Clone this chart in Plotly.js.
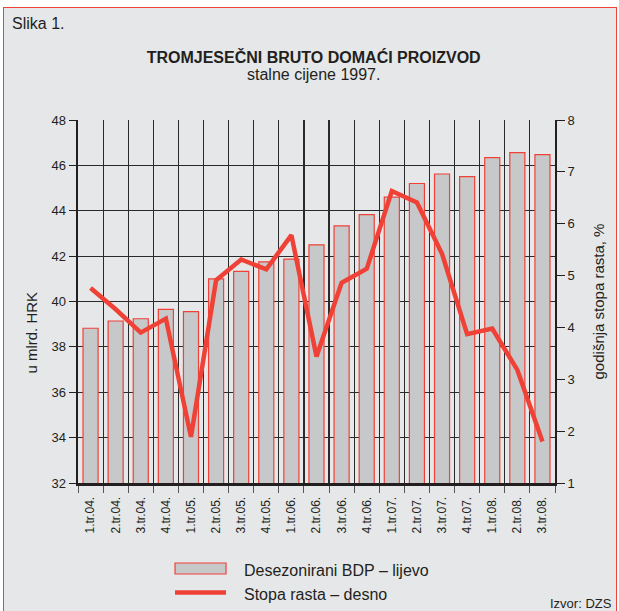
<!DOCTYPE html>
<html>
<head>
<meta charset="utf-8">
<script src="https://cdn.plot.ly/plotly-3.0.1.min.js"></script>
<style>
  html, body { margin: 0; padding: 0; background: #ffffff; width: 619px; height: 611px; overflow: hidden; }
  #frame { position: absolute; left: 3px; top: 7px; width: 612px; height: 610px; border: 1px solid #ef4136; background: #e6e7e8; }
  #chart { width: 612px; height: 610px; }
</style>
</head>
<body>
<div id="frame"><div id="chart"></div></div>
<script>
// Categories (quarters)
const categories = ["1.tr.04.", "2.tr.04.", "3.tr.04.", "4.tr.04.",
                    "1.tr.05.", "2.tr.05.", "3.tr.05.", "4.tr.05.",
                    "1.tr.06.", "2.tr.06.", "3.tr.06.", "4.tr.06.",
                    "1.tr.07.", "2.tr.07.", "3.tr.07.", "4.tr.07.",
                    "1.tr.08.", "2.tr.08.", "3.tr.08."];
// Desezonirani BDP, mlrd. HRK (left axis)
const bdp = [38.82, 39.14, 39.24, 39.65,
             39.55, 41.0, 41.33, 41.75,
             41.87, 42.5, 43.33, 43.83,
             44.6, 45.2, 45.62, 45.5,
             46.34, 46.56, 46.47];
// Stopa rasta, % (right axis)
const rate = [4.76, 4.35, 3.9, 4.17,
              1.89, 4.91, 5.31, 5.12,
              5.78, 3.44, 4.86, 5.13,
              6.63, 6.41, 5.42, 3.87,
              3.98, 3.18, 1.80];
// Axis tick values
const leftTicks = [32, 34, 36, 38, 40, 42, 44, 46, 48];
const rightTicks = [1, 2, 3, 4, 5, 6, 7, 8];

const serieNames = ["Desezonirani BDP \u2013 lijevo", "Stopa rasta \u2013 desno"];

const RED = "#ef4136";
const INK = "#231f20";
const GRID = "#2a2a2a";
const FONT = "Liberation Sans, Arial, sans-serif";

const traces = [
  { type: "bar", x: categories, y: bdp, yaxis: "y",
    marker: { color: "#c7c8ca", line: { color: RED, width: 1.2 } } },
  { type: "scatter", mode: "lines", x: categories, y: rate, yaxis: "y2",
    line: { color: RED, width: 4.5 } }
];

const layout = {
  width: 612, height: 610,
  margin: { l: 74, r: 61, t: 112, b: 135 },
  paper_bgcolor: "#e6e7e8",
  plot_bgcolor: "#e6e7e8",
  font: { family: FONT, color: INK },
  bargap: 0.4, showlegend: false,
  title: { text: "<b>TROMJESEČNI BRUTO DOMAĆI PROIZVOD</b>",
    font: { size: 16 },
    xref: "container", x: 0.506, xanchor: "center",
    yref: "container", y: 0.919, yanchor: "middle" },
  xaxis: { type: "category", range: [-0.5, 18.5], tickson: "boundaries",
    ticks: "outside", ticklen: 7, tickcolor: "#555555",
    showgrid: true, gridcolor: GRID, gridwidth: 1.2,
    showline: true, linecolor: INK, linewidth: 3,
    tickangle: -90, ticklabelstandoff: 6,
    tickfont: { size: 12 } },
  yaxis: { range: [32, 48], dtick: 2,
    ticks: "outside", ticklen: 7, tickcolor: INK,
    showgrid: true, gridcolor: GRID, gridwidth: 1.2,
    zeroline: false, showline: true, linecolor: INK, linewidth: 2.5,
    tickfont: { size: 13 },
    title: { text: "u mlrd. HRK" + "\u00a0".repeat(15) + "\u200b", font: { size: 15 } } },
  yaxis2: { overlaying: "y", side: "right", range: [1, 8], dtick: 1,
    ticks: "outside", ticklen: 8, tickcolor: INK,
    showgrid: false, zeroline: false, showline: true, linecolor: INK, linewidth: 2,
    tickfont: { size: 13 },
    title: { text: "godišnja stopa rasta, %", font: { size: 15 } } },
  shapes: [
    { type: "rect", xref: "paper", yref: "paper", x0: 0.2034, x1: 0.3103, y0: -0.2507, y1: -0.2204,
      fillcolor: "#c7c8ca", line: { color: RED, width: 1.2 } },
    { type: "rect", xref: "paper", yref: "paper", x0: 0.2034, x1: 0.3103, y0: -0.3081, y1: -0.2957,
      fillcolor: RED, line: { width: 0 } }
  ],
  annotations: [
    { text: "Slika 1.", xref: "paper", yref: "paper", x: -0.1426, y: 1.2645,
      xanchor: "left", yanchor: "middle", showarrow: false, font: { size: 16 } },
    { text: "stalne cijene 1997.", xref: "paper", yref: "paper", x: 0.494, y: 1.124,
      xanchor: "center", yanchor: "middle", showarrow: false, font: { size: 16 } },
    { text: serieNames[0], xref: "paper", yref: "paper", x: 0.3428, y: -0.2397,
      xanchor: "left", yanchor: "middle", showarrow: false, font: { size: 16 } },
    { text: serieNames[1], xref: "paper", yref: "paper", x: 0.3428, y: -0.3085,
      xanchor: "left", yanchor: "middle", showarrow: false, font: { size: 16 } },
    { text: "Izvor: DZS", xref: "paper", yref: "paper", x: 1.1237, y: -0.3306,
      xanchor: "right", yanchor: "middle", showarrow: false, font: { size: 13 } }
  ]
};

Plotly.newPlot("chart", traces, layout, { displayModeBar: false, staticPlot: true });
</script>
</body>
</html>
